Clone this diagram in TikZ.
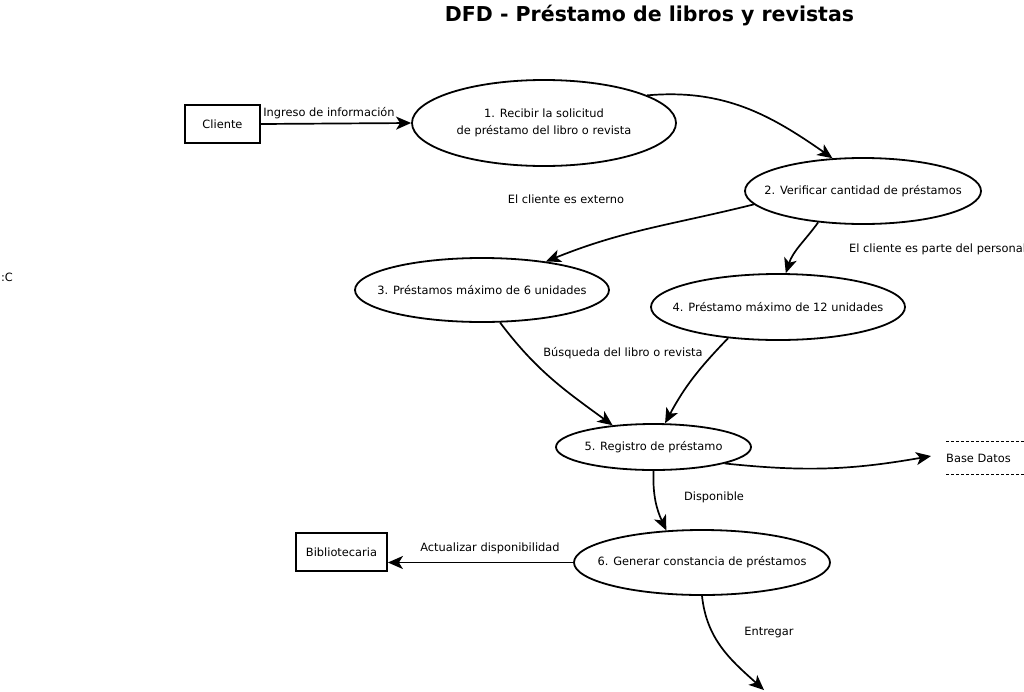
\documentclass[tikz,border=0pt]{standalone}
\usepackage{fontspec}
\setmainfont{DejaVu Sans}
\usetikzlibrary{shapes.geometric,arrows.meta}
\begin{document}
\begin{tikzpicture}[x=1pt,y=-1pt,
  txt/.style={font=\fontsize{11.4}{14}\selectfont, inner sep=0pt},
  proc/.style={draw, ellipse, line width=1.8pt, inner sep=0pt},
  ent/.style={draw, rectangle, line width=1.8pt, inner sep=0pt, font=\fontsize{11.4}{14}\selectfont},
  flow/.style={line width=1.7pt, -{Stealth[length=15pt,width=13pt,inset=4pt]}},
  dbline/.style={line width=0.7pt, dash pattern=on 3pt off 2pt}
]
\useasboundingbox (0,0) rectangle (1024,691);
\fill[white] (0,0) rectangle (1024,691);

% title
\node[font=\fontsize{20.5}{24}\selectfont\bfseries, inner sep=0pt] (title) at (649.5,16) {DFD - Préstamo de libros y revistas};

% entities
\node[ent, minimum width=75, minimum height=38] (cli) at (222.5,124) {Cliente};
\node[ent, minimum width=91, minimum height=38] (bib) at (341.5,552) {Bibliotecaria};

% processes
\node[proc, minimum width=264, minimum height=86] (p1) at (544,123) {};
\node[txt, align=center, font=\fontsize{11.4}{16.5}\selectfont] (t1) at (p1.center) {1. Recibir la solicitud\\de préstamo del libro o revista};
\node[proc, minimum width=236, minimum height=66] (p2) at (863,191) {};
\node[txt] (t2) at (p2.center) {2. Verificar cantidad de préstamos};
\node[proc, minimum width=254, minimum height=64] (p3) at (482,290) {};
\node[txt] (t3) at (p3.center) {3. Préstamos máximo de 6 unidades};
\node[proc, minimum width=254, minimum height=66] (p4) at (778,307) {};
\node[txt] (t4) at (p4.center) {4. Préstamo máximo de 12 unidades};
\node[proc, minimum width=195, minimum height=46] (p5) at (653.5,447) {};
\node[txt] (t5) at (p5.center) {5. Registro de préstamo};
\node[proc, minimum width=256, minimum height=65] (p6) at (702,562.5) {};
\node[txt] (t6) at (p6.center) {6. Generar constancia de préstamos};

% data store
\node[txt, anchor=west] (db) at (946,458) {Base Datos};
\coordinate (dbtl) at (946,441);
\coordinate (dbtr) at (1024,441);
\coordinate (dbbl) at (946,474);
\coordinate (dbbr) at (1024,474);
\draw[dbline] (dbtl) -- (dbtr);
\draw[dbline] (dbbl) -- (dbbr);
\coordinate (dbin) at (931,456);
\coordinate (out) at (764,690);

% connectors
\draw[flow] (cli.east) -- (p1.west);
\draw[flow] (p1.15) to[out=5, in=145] (p2.133);
\draw[flow] (p2.187) to[out=194, in=22] (p3.24);
\draw[flow] (p2.215) to[out=234, in=72] (p4.77);
\draw[flow] (p3.-61) to[out=-53, in=144] (p5.152);
\draw[flow] (p4.212) to[out=226, in=62] (p5.64);
\draw[flow] (p5.-13) to[out=-6, in=190] (dbin);
\draw[flow] (p5.270) to[out=268, in=115] (p6.138);
\draw[flow] (p6.west) -- (p6.west -| bib.east);
\draw[flow] (p6.270) to[out=276, in=138] (out);

% labels
\node[txt] (l1) at (329,113) {Ingreso de información};
\node[txt] (l2) at (566,199) {El cliente es externo};
\node[txt, anchor=west] (l3) at (849,249) {El cliente es parte del personal};
\node[txt] (l4) at (623,353) {Búsqueda del libro o revista};
\node[txt] (l5) at (714,497) {Disponible};
\node[txt] (l6) at (490,548) {Actualizar disponibilidad};
\node[txt] (l7) at (769,633) {Entregar};
\node[txt] (l8) at (7,277) {:C};
\end{tikzpicture}
\end{document}
